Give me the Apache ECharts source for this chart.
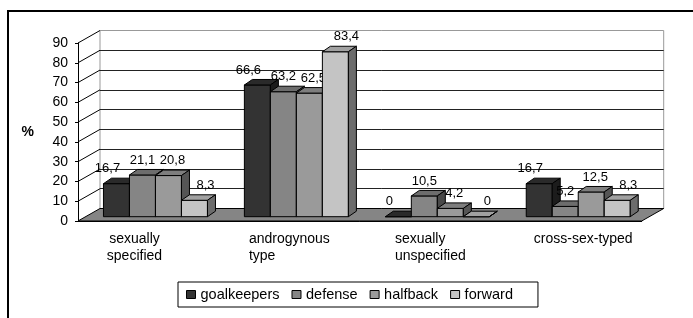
<!DOCTYPE html>
<html>
<head>
<meta charset="utf-8">
<script src="https://cdn.jsdelivr.net/npm/echarts@6/dist/echarts.min.js"></script>
<style>
  html, body { margin: 0; padding: 0; background: #fff; }
  #chart { width: 693px; height: 318px; }
</style>
</head>
<body>
<div id="chart"></div>
<script>
// data
var categories = ['sexually\nspecified', 'androgynous\ntype', 'sexually\nunspecified', 'cross-sex-typed']
var seriesNames = ['goalkeepers', 'defense', 'halfback', 'forward']
var goalkeepers = [16.7, 66.6, 0, 16.7]
var defense = [21.1, 63.2, 10.5, 5.2]
var halfback = [20.8, 62.5, 4.2, 12.5]
var forward = [8.3, 83.4, 0, 8.3]
var yMin = 0, yMax = 90, yStep = 10

// look of the fake 3d
var colors = ['#333333', '#858585', '#9a9a9a', '#c4c4c4']
var FONT = 'Liberation Sans, Arial, sans-serif'
var WALL_DX = 22, WALL_DY = -12.5   // depth of the room
var ROW_DX = 7, ROW_DY = -4.3       // where the bar row sits in depth
var BAR_W = 26, BAR_DX = 8, BAR_DY = -5.5
var LABEL_DX = [-9, 0, 4, 11], LABEL_DY = -15
// excel places the category texts a bit unevenly
var catLabelStyle = ['sl', 'l', 'l', 'sr']

function shade(hex, f) {
  var n = parseInt(hex.slice(1), 16)
  var r = Math.round(((n >> 16) & 255) * f)
  var g = Math.round(((n >> 8) & 255) * f)
  var b = Math.round((n & 255) * f)
  return 'rgb(' + r + ',' + g + ',' + b + ')'
}

function renderBar(params, api) {
  var s = params.seriesIndex
  var cat = api.value(0)
  var val = api.value(1)
  var base = api.coord([cat, 0])
  var top = api.coord([cat, val])
  var xl = base[0] + ROW_DX - 2 * BAR_W + s * BAR_W
  var xr = xl + BAR_W
  var yb = base[1] + ROW_DY
  var yt = top[1] + ROW_DY
  var c = colors[s]
  var line = { stroke: '#000', lineWidth: 1 }
  return {
    type: 'group',
    children: [
      { type: 'polygon', shape: { points: [[xl, yb], [xr, yb], [xr, yt], [xl, yt]] },
        style: Object.assign({ fill: c }, line) },
      { type: 'polygon', shape: { points: [[xl, yt], [xr, yt], [xr + BAR_DX, yt + BAR_DY], [xl + BAR_DX, yt + BAR_DY]] },
        style: Object.assign({ fill: shade(c, 0.82) }, line) },
      { type: 'polygon', shape: { points: [[xr, yb], [xr + BAR_DX, yb + BAR_DY], [xr + BAR_DX, yt + BAR_DY], [xr, yt]] },
        style: Object.assign({ fill: shade(c, 0.55) }, line) },
      { type: 'text', x: xl + BAR_W / 2 + LABEL_DX[s], y: yt + LABEL_DY,
        style: { text: String(val).replace('.', ','), font: '13px ' + FONT, fill: '#000',
          align: 'center', verticalAlign: 'middle' } }
    ]
  }
}

function renderRoom(params, api) {
  var cs = params.coordSys
  var x0 = cs.x, x1 = cs.x + cs.width, yb = cs.y + cs.height
  var children = [{
    type: 'polygon',
    shape: { points: [[x0, yb], [x1, yb], [x1 + WALL_DX, yb + WALL_DY], [x0 + WALL_DX, yb + WALL_DY]] },
    style: { fill: '#858585', stroke: '#000', lineWidth: 1 }
  }]
  for (var v = yMin + yStep; v <= yMax; v += yStep) {
    var y = api.coord([0, v])[1]
    children.push({ type: 'line', shape: { x1: x0, y1: y, x2: x0 + WALL_DX, y2: y + WALL_DY },
      style: { stroke: '#000', lineWidth: 1 } })
  }
  return { type: 'group', children: children }
}

var values = [goalkeepers, defense, halfback, forward]
var series = values.map(function (list, s) {
  return {
    name: seriesNames[s],
    type: 'custom',
    xAxisIndex: 0,
    yAxisIndex: 0,
    z: 3,
    itemStyle: { color: colors[s], borderColor: '#000', borderWidth: 1 },
    encode: { x: 0, y: 1 },
    renderItem: renderBar,
    data: list.map(function (v, i) { return [i, v] })
  }
})
series.push({
  type: 'custom',
  xAxisIndex: 0,
  yAxisIndex: 0,
  z: 1,
  silent: true,
  renderItem: renderRoom,
  data: [[0, 0]]
})

var labelFont = { fontSize: 14, lineHeight: 17, color: '#000', fontFamily: FONT }

var chart = echarts.init(document.getElementById('chart'))
chart.setOption({
  animation: false,
  textStyle: { fontFamily: FONT },
  graphic: [{
    type: 'rect',
    shape: { x: 8, y: 11, width: 720, height: 340 },
    style: { fill: 'none', stroke: '#000', lineWidth: 2 }
  }],
  legend: {
    data: seriesNames,
    left: 178,
    top: 282,
    icon: 'rect',
    itemWidth: 9,
    itemHeight: 8,
    itemGap: 12,
    padding: [5, 25, 5, 8],
    borderColor: '#000',
    borderWidth: 1,
    selectedMode: false,
    itemStyle: { borderColor: '#000', borderWidth: 1 },
    textStyle: { fontSize: 14.5, color: '#000', fontFamily: FONT }
  },
  grid: [
    { left: 78, top: 43, width: 563.7, height: 178 },
    { left: 78 + WALL_DX, top: 43 + WALL_DY, width: 563.7, height: 178,
      show: true, borderColor: '#999', borderWidth: 1, backgroundColor: '#fff' }
  ],
  xAxis: [{
    type: 'category',
    gridIndex: 0,
    data: categories,
    axisLine: { lineStyle: { color: '#000', width: 1 } },
    axisTick: { length: 5, lineStyle: { color: '#000' } },
    axisLabel: {
      interval: 0,
      margin: 10,
      fontSize: 14,
      lineHeight: 17,
      color: '#000',
      fontFamily: FONT,
      formatter: function (value, index) {
        var st = catLabelStyle[index]
        return value.split('\n').map(function (t) { return '{' + st + '|' + t + '}' }).join('\n')
      },
      rich: {
        l: Object.assign({ align: 'left' }, labelFont),
        sl: Object.assign({ align: 'center', padding: [0, 28, 0, 0] }, labelFont),
        sr: Object.assign({ align: 'center', padding: [0, 0, 0, 24] }, labelFont)
      }
    },
    splitLine: { show: false }
  }, {
    type: 'value',
    gridIndex: 1,
    show: false
  }],
  yAxis: [{
    type: 'value',
    gridIndex: 0,
    min: yMin,
    max: yMax,
    interval: yStep,
    name: '%',
    nameLocation: 'middle',
    nameRotate: 0,
    nameGap: 44,
    nameTextStyle: { fontSize: 14, fontWeight: 'bold', color: '#000', fontFamily: FONT },
    axisLine: { show: true, lineStyle: { color: '#000', width: 1 } },
    axisTick: { show: true, length: 3, lineStyle: { color: '#000' } },
    axisLabel: { margin: 10, fontSize: 14, color: '#000', fontFamily: FONT },
    splitLine: { show: false }
  }, {
    type: 'value',
    gridIndex: 1,
    min: yMin,
    max: yMax,
    interval: yStep,
    axisLine: { show: false },
    axisTick: { show: false },
    axisLabel: { show: false },
    splitLine: { show: true, showMinLine: false, showMaxLine: false, lineStyle: { color: '#222', width: 1 } }
  }],
  series: series
})
</script>
</body>
</html>
